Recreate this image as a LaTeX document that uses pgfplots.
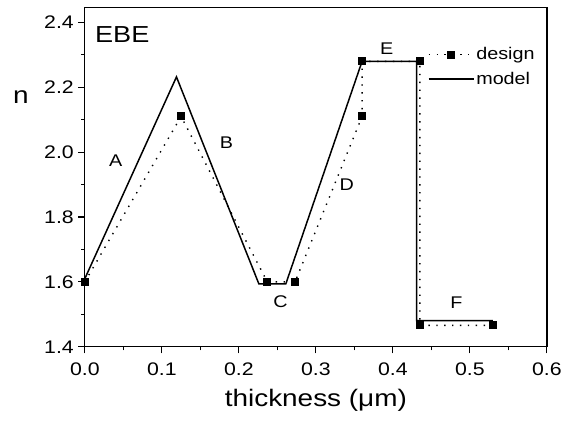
\documentclass[border=0pt]{standalone}
\usepackage{fontspec}
\setmainfont[FakeStretch=1.17]{Liberation Sans}
\usepackage{pgfplots}
\pgfplotsset{compat=1.18}

\begin{document}
\begin{tikzpicture}
\begin{axis}[
    scale only axis, width=463bp, height=340bp,
    xmin=0, xmax=0.6, ymin=1.4, ymax=2.446,
    xtick={0,0.1,...,0.6}, ytick={1.4,1.6,...,2.4},
    minor x tick num=1, minor y tick num=1,
    /pgf/number format/fixed, /pgf/number format/fixed zerofill,
    /pgf/number format/precision=1,
    /pgf/number format/assume math mode=true,
    tick align=outside, xtick pos=bottom, ytick pos=left,
    major tick length=6.5bp, minor tick length=3.5bp,
    every tick/.style={black, line width=1.1bp},
    axis line style={line width=1.3bp},
    tick label style={font=\fontsize{18.3}{21}\selectfont},
    xticklabel style={yshift=-6bp},
    yticklabel style={xshift=-1bp},
    xlabel={thickness (μm)},
    xlabel style={font=\fontsize{24}{28}\selectfont, yshift=-7bp},
    ylabel={n},
    ylabel style={font=\fontsize{24}{28}\selectfont, rotate=-90,
        at={(rel axis cs:0,0.736)}, anchor=center, xshift=-64bp},
    legend style={draw=none, fill=none, at={(rel axis cs:0.742,0.888)}, anchor=north west,
        font=\fontsize{17}{19}\selectfont, row sep=7bp, inner sep=0pt},
    legend cell align=left,
    legend image code/.code={
        \draw[mark repeat=2, mark phase=2, #1]
            plot coordinates {(0bp,0bp) (22bp,0bp) (45bp,0bp)};},
    clip=false,
]
\addplot[black, line width=1.4bp, dash pattern=on 1.4bp off 6.5bp,
    mark=square*, mark size=3.3bp, mark options={solid}]
    coordinates {(0,1.6) (0.125,2.11) (0.237,1.6) (0.273,1.6) (0.36,2.11)
                 (0.36,2.28) (0.435,2.28) (0.435,1.466) (0.530,1.466)};
\addlegendentry{design}
\addplot[black, line width=1.5bp, no marks]
    coordinates {(0,1.61) (0.119,2.232) (0.226,1.594) (0.261,1.594) (0.36,2.28)
                 (0.431,2.28) (0.431,1.481) (0.530,1.481)};
\addlegendentry{model}

\node[font=\fontsize{17}{19}\selectfont] at (axis cs:0.040,1.973) {A};
\node[font=\fontsize{17}{19}\selectfont] at (axis cs:0.184,2.029) {B};
\node[font=\fontsize{17}{19}\selectfont] at (axis cs:0.254,1.540) {C};
\node[font=\fontsize{17}{19}\selectfont] at (axis cs:0.340,1.900) {D};
\node[font=\fontsize{17}{19}\selectfont] at (axis cs:0.392,2.320) {E};
\node[font=\fontsize{17}{19}\selectfont] at (axis cs:0.4825,1.537) {F};
\node[font=\fontsize{23.3}{26}\selectfont] at (axis cs:0.0486,2.364) {EBE};
\end{axis}
\path (current axis.south west) ++(-85bp,-74.7bp) rectangle
      ([shift={(17.3bp,7.5bp)}]current axis.north east);
\end{tikzpicture}
\end{document}
